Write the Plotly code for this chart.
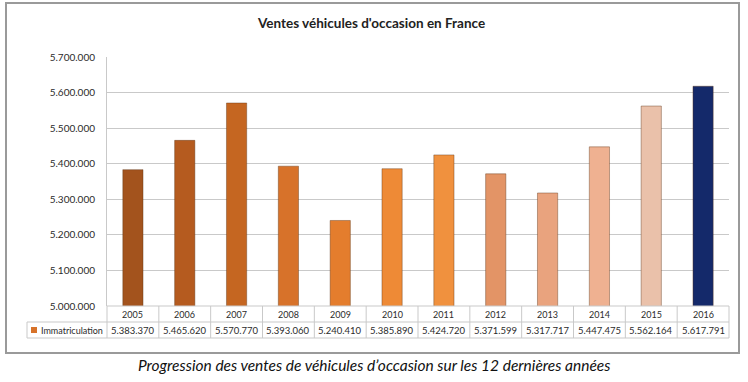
import plotly.graph_objects as go

years = ["2005", "2006", "2007", "2008", "2009", "2010", "2011", "2012", "2013", "2014", "2015", "2016"]
immatriculations = [5383370, 5465620, 5570770, 5393060, 5240410, 5385890, 5424720, 5371599, 5317717, 5447475, 5562164, 5617791]
value_labels = ["5.383.370", "5.465.620", "5.570.770", "5.393.060", "5.240.410", "5.385.890",
                "5.424.720", "5.371.599", "5.317.717", "5.447.475", "5.562.164", "5.617.791"]
bar_colors = ["#a3531d", "#b55b1f", "#c56621", "#d7722a", "#e47d2d", "#ee8a36",
              "#f0913e", "#e39466", "#e9a37e", "#efb191", "#eac1aa", "#14296a"]
series_name = "Immatriculation"
title_text = "Ventes véhicules d'occasion en France"
caption_text = "Progression des ventes de véhicules d’occasion sur les 12 dernières années"
y_ticks = [5000000, 5100000, 5200000, 5300000, 5400000, 5500000, 5600000, 5700000]

W, H = 748, 382
L, R, T, B = 107, 19, 57, 76
pw, ph = W - L - R, H - T - B

def px_x(px):
    return (px - L) / pw

def px_y(py):
    return (H - B - py) / ph

FONT = "Lato, 'Open Sans', sans-serif"
GRID = "#c9c9c9"
TXT = "#2b2b2b"

fig = go.Figure()
fig.add_trace(go.Bar(
    x=years, y=immatriculations, name=series_name,
    marker=dict(color=bar_colors, line=dict(color="rgba(90,50,20,0.4)", width=1)),
    width=0.39, showlegend=False,
))

shapes = []
annotations = []
n = len(years)
# table grid lines
for py in [306, 322, 338]:
    x0 = 0 if py == 306 else px_x(27)
    shapes.append(dict(type="line", xref="paper", yref="paper", x0=x0, x1=1,
                       y0=px_y(py), y1=px_y(py), line=dict(color=GRID, width=1)))
shapes.append(dict(type="line", xref="paper", yref="paper", x0=px_x(27), x1=px_x(27),
                   y0=px_y(322), y1=px_y(338), line=dict(color=GRID, width=1)))
for k in range(n + 1):
    xp = k / n
    shapes.append(dict(type="line", xref="paper", yref="paper", x0=xp, x1=xp,
                       y0=px_y(306), y1=px_y(338), line=dict(color=GRID, width=1)))
# legend key
shapes.append(dict(type="rect", xref="paper", yref="paper", x0=px_x(31), x1=px_x(37),
                   y0=px_y(333), y1=px_y(327), fillcolor="#d7722a", line=dict(width=0)))
# outer frame
shapes.append(dict(type="rect", xref="paper", yref="paper", x0=px_x(6), x1=px_x(739),
                   y0=px_y(353), y1=px_y(3), line=dict(color="#9a9a9a", width=2)))

def ann(**kw):
    kw.setdefault("showarrow", False)
    kw.setdefault("xanchor", "center")
    kw.setdefault("yanchor", "middle")
    annotations.append(kw)

for i, (yr, lab) in enumerate(zip(years, value_labels)):
    ann(x=i, xref="x", yref="paper", y=px_y(314), text=yr,
        font=dict(family=FONT, size=9, color=TXT))
    ann(x=i, xref="x", yref="paper", y=px_y(330), text=lab,
        font=dict(family=FONT, size=9.5, color=TXT))
ann(xref="paper", yref="paper", x=px_x(39), y=px_y(330), xanchor="left",
    text=series_name, font=dict(family=FONT, size=9, color=TXT))
ann(xref="paper", yref="paper", x=px_x(371), y=px_y(23), text="<b>" + title_text + "</b>",
    font=dict(family=FONT, size=13.5, color="#222"))
ann(xref="paper", yref="paper", x=px_x(374), y=px_y(365), text="<i>" + caption_text + "</i>",
    font=dict(family=FONT, size=15.5, color="#111"))

fig.update_layout(
    width=W, height=H, margin=dict(l=L, r=R, t=T, b=B),
    paper_bgcolor="white", plot_bgcolor="white",
    separators=",.",
    shapes=shapes, annotations=annotations,
    xaxis=dict(type="category", range=[-0.5, n - 0.5], showticklabels=False, showgrid=False,
               zeroline=False, showline=False, ticks=""),
    yaxis=dict(range=[5000000, 5700000], tickvals=y_ticks, tickformat=",d",
               showgrid=True, gridcolor=GRID, gridwidth=1, zeroline=False,
               showline=True, linecolor=GRID, ticks="", ticklabelstandoff=9,
               tickfont=dict(family=FONT, size=10, color=TXT)),
)

fig.write_html("out.html", config={"displayModeBar": False},
               post_script="document.body.style.margin='0';")
